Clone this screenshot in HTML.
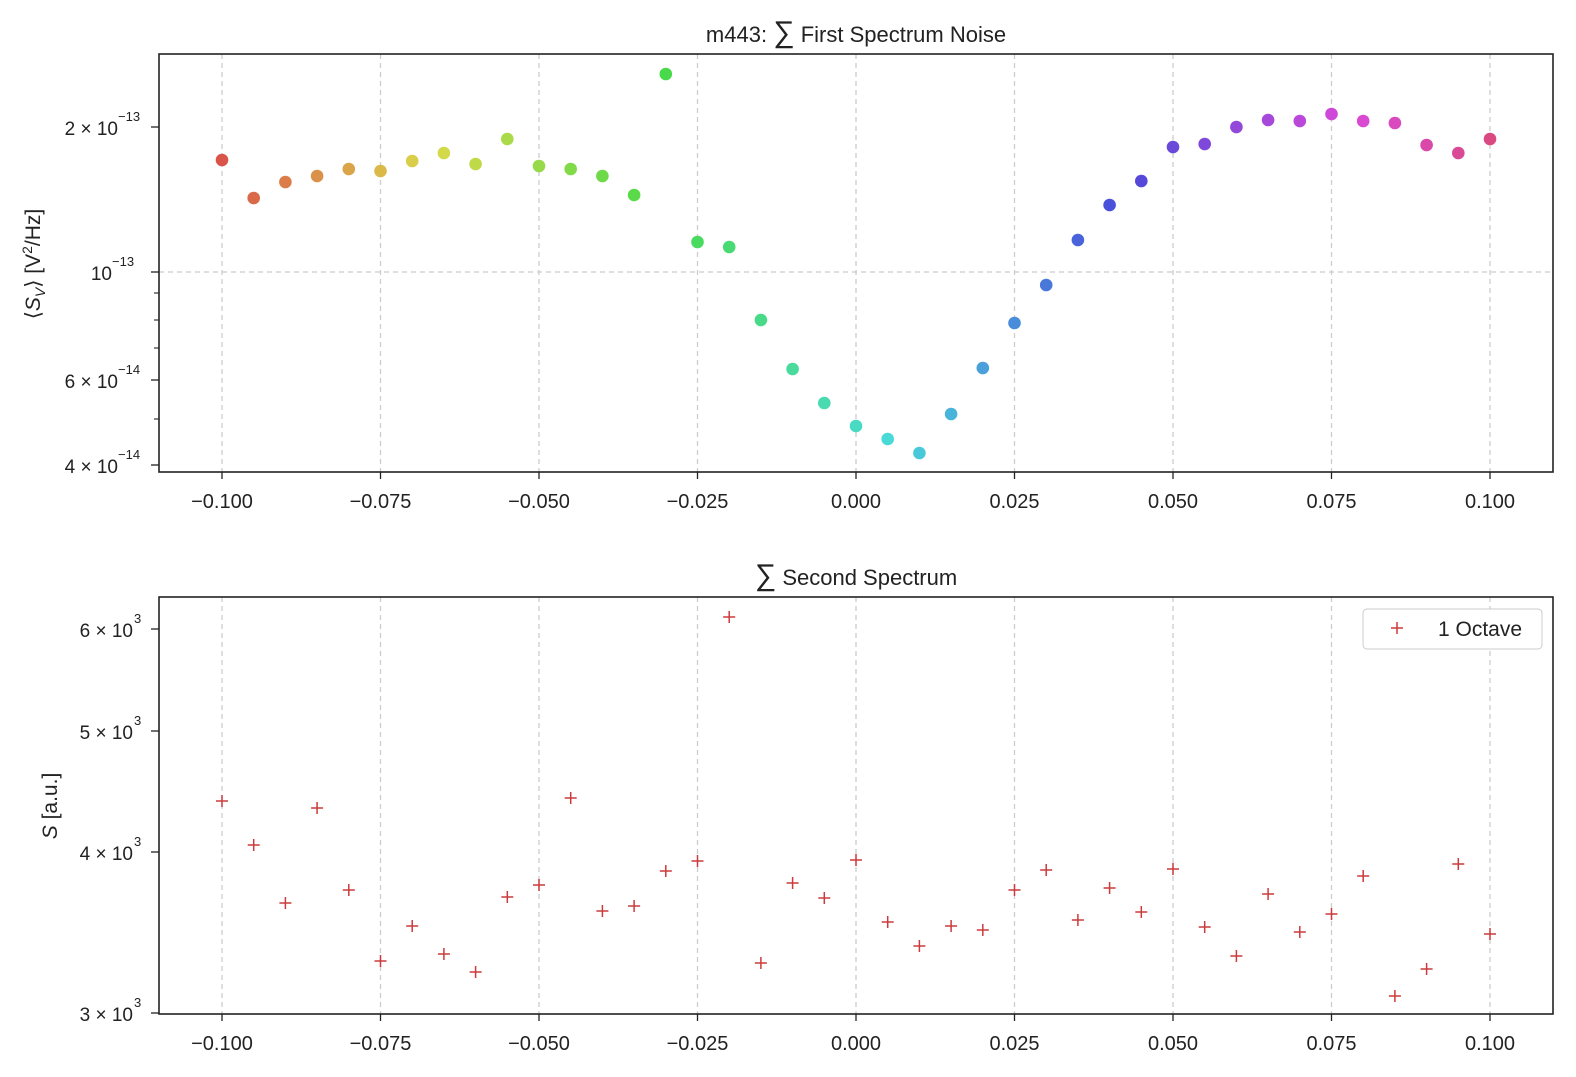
<!DOCTYPE html>
<html><head><meta charset="utf-8"><style>
html,body{margin:0;background:#fff;overflow:hidden;width:1576px;height:1077px;}
svg{display:block;}
svg text{font-family:"Liberation Sans","DejaVu Sans",sans-serif;fill:#222;}
</style></head><body>
<svg id="s" width="1576" height="1077" xmlns="http://www.w3.org/2000/svg"></svg>
<script>
(function(){
const s=document.getElementById('s');let h='';
const X=v=>222+(v+0.1)*6340;
const topY=[160,198,182,176,169,171,161,153,164,139,166,169,176,195,74,242,247,320,369,403,426,439,453,414,368,323,285,240,205,181,147,144,127,120,121,114,121,123,145,153,139];
const botY=[801,845,903,808,890,961,926,954,972,897,885,798,911,906,871,861,617,963,883,898,860,922,946,926,930,890,870,920,888,912,869,927,956,894,932,914,876,996,969,864,934];
function axes(y0,y1){
 for(let i=0;i<9;i++){const v=-0.1+i*0.025,x=X(v);
  h+=`<line x1="${x}" y1="${y0}" x2="${x}" y2="${y1}" stroke="#ccc" stroke-width="1.3" stroke-dasharray="5,4"/>`;
  h+=`<line x1="${x}" y1="${y1}" x2="${x}" y2="${y1+7}" stroke="#222" stroke-width="1.3"/>`;
  h+=`<text x="${x}" y="${y1+36}" font-size="20" text-anchor="middle">${(v<-1e-9?'−':'')+Math.abs(v).toFixed(3)}</text>`;}
}
axes(54,472);axes(597,1014);
h+=`<line x1="159" y1="272" x2="1553" y2="272" stroke="#ccc" stroke-width="1.3" stroke-dasharray="5,4"/>`;
[[127,'2 \u00d7 10','−13'],[272,'10','−13'],[380,'6 \u00d7 10','−14'],[465,'4 \u00d7 10','−14']].forEach(t=>{
 const xx=t[1]=='10'?112:118;
 h+=`<line x1="151" y1="${t[0]}" x2="159" y2="${t[0]}" stroke="#222" stroke-width="1.3"/>`;
 h+=`<text x="${xx}" y="${t[0]+8}" font-size="19" text-anchor="end">${t[1]}</text><text x="${xx}" y="${t[0]-6}" font-size="13">${t[2]}</text>`;});
[293,320,348,419].forEach(y=>h+=`<line x1="154" y1="${y}" x2="159" y2="${y}" stroke="#222" stroke-width="1.1"/>`);
[[629,'6'],[731,'5'],[852,'4'],[1013,'3']].forEach(t=>{
 h+=`<line x1="151" y1="${t[0]}" x2="159" y2="${t[0]}" stroke="#222" stroke-width="1.3"/>`;
 h+=`<text x="133" y="${t[0]+8}" font-size="19" text-anchor="end">${t[1]} \u00d7 10</text><text x="134" y="${t[0]-6}" font-size="13">3</text>`;});
topY.forEach((y,i)=>{const hue=(i/41*340+5)%360;h+=`<circle cx="${X(-0.1+i*0.005)}" cy="${y}" r="6.3" fill="hsl(${hue},66%,57%)"/>`;});
botY.forEach((y,i)=>{const x=X(-0.1+i*0.005);h+=`<path d="M${x-6},${y}h12M${x},${y-6}v12" stroke="#cc3b3b" stroke-width="1.5"/>`;});
h+=`<rect x="159" y="54" width="1394" height="418" fill="none" stroke="#222" stroke-width="1.6"/>`;
h+=`<rect x="159" y="597" width="1394" height="417" fill="none" stroke="#222" stroke-width="1.6"/>`;
h+=`<text x="856" y="42" font-size="22" text-anchor="middle">m443: <tspan font-size="30">∑</tspan> First Spectrum Noise</text>`;
h+=`<text x="856" y="585" font-size="22" text-anchor="middle"><tspan font-size="30">∑</tspan> Second Spectrum</text>`;
h+=`<text transform="translate(40,264) rotate(-90)" font-size="21" text-anchor="middle">⟨<tspan font-style="italic">S</tspan><tspan font-size="14" dy="5" font-style="italic">V</tspan><tspan dy="-5">⟩ [V</tspan><tspan font-size="14" dy="-8">2</tspan><tspan dy="8">/Hz]</tspan></text>`;
h+=`<text transform="translate(57,806) rotate(-90)" font-size="21" text-anchor="middle"><tspan font-style="italic">S</tspan> [a.u.]</text>`;
h+=`<rect x="1363" y="609" width="179" height="40" rx="4" fill="#fff" stroke="#ccc"/><path d="M1391,628h12M1397,622v12" stroke="#cc3b3b" stroke-width="1.5"/><text x="1438" y="636" font-size="21">1 Octave</text>`;
s.innerHTML=h;
})();
</script></body></html>
